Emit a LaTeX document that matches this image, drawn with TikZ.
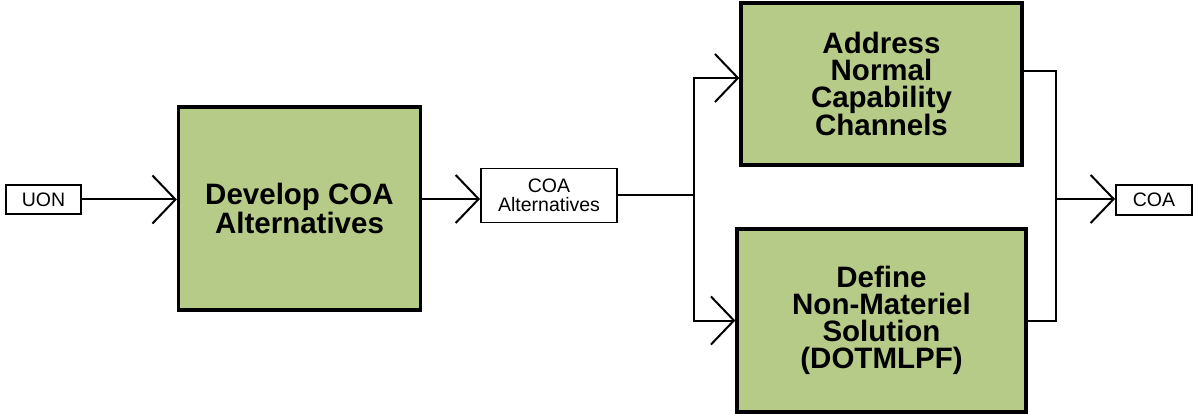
\documentclass[tikz,border=0pt]{standalone}
\usepackage{fontspec}
\setmainfont{Liberation Sans}
\definecolor{ActFill}{HTML}{B7CB89}
\usepackage{tikz}
\usetikzlibrary{arrows.meta, positioning, calc}

\begin{document}
\begin{tikzpicture}[
  x=1pt, y=-1pt,
  act/.style={rectangle, draw=black, line width=3.3pt, fill=ActFill,
              align=center, inner sep=0pt,
              font=\fontsize{29.5}{27}\selectfont\bfseries},
  tag/.style={rectangle, draw=black, line width=1.9pt, fill=white,
              align=center, inner sep=0pt,
              font=\fontsize{19.5}{19.5}\selectfont},
  flow/.style={line width=2pt,
               -{Straight Barb[length=23pt, width=48pt, line width=2pt]}},
  wire/.style={line width=2pt},
]
\useasboundingbox (0,0) rectangle (1194,414);
% activities (green) and the items passed between them (white)
\node[tag, minimum width=75pt, minimum height=29pt] (uon) at (43.5,199.5) {UON};
\node[act, minimum width=242pt, minimum height=203pt] (develop) at (299.5,208.5)
  {Develop COA\\Alternatives};
\node[tag, minimum width=136pt, minimum height=54pt] (coaalt) at (549,195.5)
  {COA\\Alternatives};
\node[act, minimum width=281pt, minimum height=162pt] (address) at (881.5,84)
  {Address\\Normal\\Capability\\Channels};
\node[act, minimum width=289pt, minimum height=183pt] (define) at (881.5,320.5)
  {Define\\Non-Materiel\\Solution\\(DOTMLPF)};
\node[tag, minimum width=76pt, minimum height=30pt] (coa) at (1154,200) {COA};

\path (coaalt.east) -- ++(76,0) coordinate (split);
\coordinate (join) at (1056,199);

\draw[flow] (uon.east) -- (uon.east -| develop.west);
\draw[flow] ($(develop.east)+(0,-9.5)$) -- ($(coaalt.west)+(0,3.5)$);
\draw[wire] (coaalt.east) -- (split);
\draw[flow] (split) |- ([yshift=6pt]address.west);
\draw[flow] (split) |- (define.west);
\draw[wire] ([yshift=13pt]address.east) -| (join);
\draw[wire] (define.east) -| (join);
\draw[flow] (join) -- (join -| coa.west);
\end{tikzpicture}
\end{document}
